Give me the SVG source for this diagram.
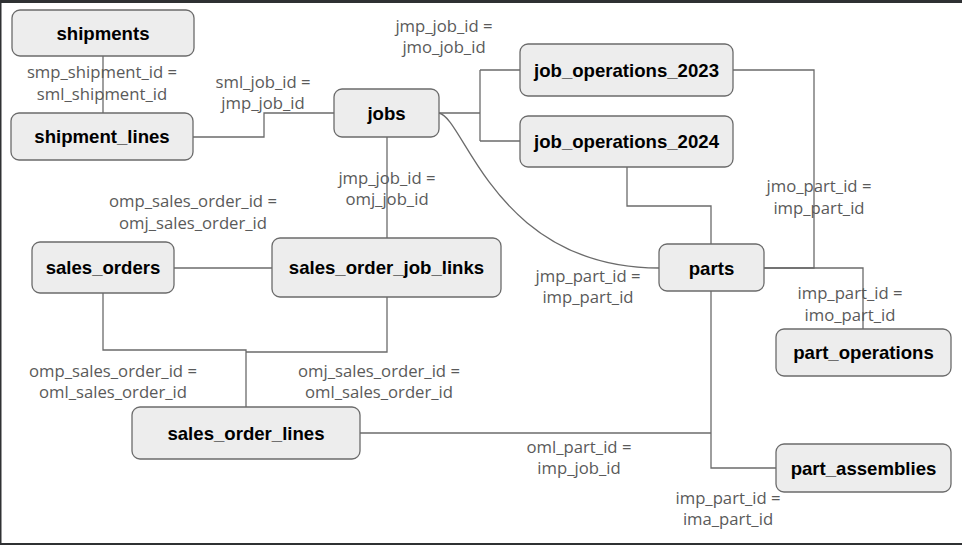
<svg xmlns="http://www.w3.org/2000/svg" width="962" height="545" viewBox="0 0 962 545">
<style>
.node rect{fill:#ededed;stroke:#6b6b6b;stroke-width:1.3}
.node text{font-family:"Liberation Sans",Arial,sans-serif;font-weight:bold;font-size:18.6px;fill:#000;text-anchor:middle}
#connectors path{fill:none;stroke:#6b6b6b;stroke-width:1.3}
.lbl{font-family:"Open Sans","Noto Sans",sans-serif;font-size:16.7px;fill:#5a5a5a;text-anchor:middle}
</style>
<rect x="0" y="0" width="962" height="545" fill="#ffffff"/>
<rect x="0" y="0" width="962" height="3" fill="#2f3133"/>
<rect x="0" y="0" width="1.5" height="545" fill="#2f3133"/>
<rect x="0" y="543" width="962" height="2" fill="#2f3133"/>
<g id="connectors">
<path d="M103,56 V113"/>
<path d="M193,137 H264 V113 H334"/>
<path d="M439,113 H480 M480,70 V141 M480,70 H520 M480,141 H520"/>
<path d="M439,113 C465,118 495,268 659,268"/>
<path d="M387,137 V238"/>
<path d="M174,268 H272"/>
<path d="M103,293 V350 H246 V407 M387,297 V352 H246"/>
<path d="M360,433 H711"/>
<path d="M711,291 V468 H776"/>
<path d="M711,244 V206 H627 V167"/>
<path d="M764,268 H814 V70 H733"/>
<path d="M764,268 H863 V329"/>
</g>
<g id="shipments" class="node"><rect x="12" y="10" width="182" height="46" rx="8"/><text x="103" y="40">shipments</text></g>
<g id="shipment_lines" class="node"><rect x="11" y="113" width="182" height="47" rx="8"/><text x="102" y="143">shipment_lines</text></g>
<g id="jobs" class="node"><rect x="334" y="89" width="105" height="48" rx="8"/><text x="386.5" y="119.5">jobs</text></g>
<g id="job_operations_2023" class="node"><rect x="520" y="44" width="213" height="52" rx="8"/><text x="626.5" y="76.5">job_operations_2023</text></g>
<g id="job_operations_2024" class="node"><rect x="520" y="116" width="213" height="51" rx="8"/><text x="626.5" y="148">job_operations_2024</text></g>
<g id="parts" class="node"><rect x="659" y="244" width="105" height="47" rx="8"/><text x="711.5" y="274.5">parts</text></g>
<g id="sales_orders" class="node"><rect x="32" y="242" width="142" height="51" rx="8"/><text x="103" y="274">sales_orders</text></g>
<g id="sales_order_job_links" class="node"><rect x="272" y="238" width="229" height="59" rx="8"/><text x="386.5" y="274">sales_order_job_links</text></g>
<g id="sales_order_lines" class="node"><rect x="132" y="407" width="228" height="52" rx="8"/><text x="246" y="439.5">sales_order_lines</text></g>
<g id="part_operations" class="node"><rect x="776" y="329" width="175" height="47" rx="8"/><text x="863.5" y="359">part_operations</text></g>
<g id="part_assemblies" class="node"><rect x="776" y="444" width="175" height="48" rx="8"/><text x="863.5" y="474.5">part_assemblies</text></g>
<g id="labels">
<text class="lbl" x="444" y="32">jmp_job_id =</text><text class="lbl" x="444" y="53">jmo_job_id</text>
<text class="lbl" x="102" y="78">smp_shipment_id =</text><text class="lbl" x="102" y="100">sml_shipment_id</text>
<text class="lbl" x="263" y="88">sml_job_id =</text><text class="lbl" x="263" y="109">jmp_job_id</text>
<text class="lbl" x="387" y="184">jmp_job_id =</text><text class="lbl" x="387" y="205">omj_job_id</text>
<text class="lbl" x="193" y="207">omp_sales_order_id =</text><text class="lbl" x="193" y="229">omj_sales_order_id</text>
<text class="lbl" x="819" y="192">jmo_part_id =</text><text class="lbl" x="819" y="214">imp_part_id</text>
<text class="lbl" x="588" y="282">jmp_part_id =</text><text class="lbl" x="588" y="303">imp_part_id</text>
<text class="lbl" x="850" y="299">imp_part_id =</text><text class="lbl" x="850" y="321">imo_part_id</text>
<text class="lbl" x="113" y="377">omp_sales_order_id =</text><text class="lbl" x="113" y="398">oml_sales_order_id</text>
<text class="lbl" x="379" y="377">omj_sales_order_id =</text><text class="lbl" x="379" y="398">oml_sales_order_id</text>
<text class="lbl" x="579" y="453">oml_part_id =</text><text class="lbl" x="579" y="474">imp_job_id</text>
<text class="lbl" x="728" y="504">imp_part_id =</text><text class="lbl" x="728" y="525">ima_part_id</text>
</g>
</svg>
